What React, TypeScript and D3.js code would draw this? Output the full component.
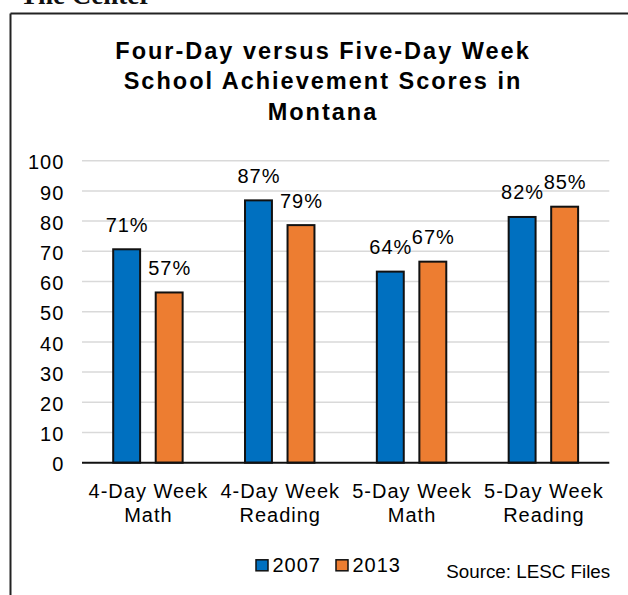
import React from "react";
import * as d3 from "d3";

const categories = [
  ["4-Day Week", "Math"],
  ["4-Day Week", "Reading"],
  ["5-Day Week", "Math"],
  ["5-Day Week", "Reading"],
];
const seriesNames = ["2007", "2013"];
const values2007 = [71, 87.2, 63.6, 81.7];
const values2013 = [56.7, 79, 66.9, 85.1];
const yTicks = [0, 10, 20, 30, 40, 50, 60, 70, 80, 90, 100];
const titleLines = [
  "Four-Day versus Five-Day Week",
  "School Achievement Scores in",
  "Montana",
];
const colors = ["#0070c0", "#ed7d31"];

const W = 628;
const H = 595;
const FONT = "'Liberation Sans', Arial, Helvetica, sans-serif";

export default function App() {
  const catKeys = categories.map((c) => c.join(" "));
  const x0 = d3.scaleBand<string>().domain(catKeys).range([82, 609.3]).padding(0);
  const x1 = d3
    .scaleBand<string>()
    .domain(seriesNames)
    .range([0, x0.bandwidth()])
    .paddingInner(0.32)
    .paddingOuter(0.71);
  const y = d3.scaleLinear().domain([0, 100]).range([462.7, 160.7]);
  const series = [values2007, values2013];

  return (
    <svg
      width={W}
      height={H}
      style={{ position: "absolute", left: 0, top: 0, background: "#fff" }}
      fontFamily={FONT}
    >
      <rect x={0} y={0} width={W} height={H} fill="#fff" />
      <text
        x={20}
        y={3.5}
        fontFamily="'Liberation Serif', 'Times New Roman', serif"
        fontWeight="bold"
        fontSize={27}
        fill="#111"
      >
        The Center
      </text>
      {/* chart border */}
      <line x1={10.5} y1={13.5} x2={W + 5} y2={13.5} stroke="#222" strokeWidth={2} />
      <line x1={10.5} y1={13.5} x2={10.5} y2={H + 5} stroke="#222" strokeWidth={2} />

      {/* title */}
      {titleLines.map((t, i) => (
        <text
          key={t}
          x={323}
          y={58.5 + i * 30.5}
          textAnchor="middle"
          fontWeight="bold"
          fontSize={23.5}
          letterSpacing={2}
          fill="#000"
        >
          {t}
        </text>
      ))}

      {/* gridlines */}
      {yTicks.map((t) =>
        t === 0 ? null : (
          <line
            key={"g" + t}
            x1={82}
            x2={609.3}
            y1={y(t)}
            y2={y(t)}
            stroke="#d9d9d9"
            strokeWidth={1.5}
          />
        )
      )}
      {/* y tick labels */}
      {yTicks.map((t) => (
        <text
          key={"t" + t}
          x={64.3}
          y={y(t) + 8.6}
          textAnchor="end"
          fontSize={20}
          letterSpacing={1}
          fill="#000"
        >
          {t}
        </text>
      ))}

      {/* bars */}
      {series.map((vals, si) =>
        vals.map((v, ci) => {
          const bx = (x0(catKeys[ci]) as number) + (x1(seriesNames[si]) as number);
          const bw = x1.bandwidth();
          return (
            <g key={"b" + si + "-" + ci}>
              <rect
                x={bx + 1}
                y={y(v) + 1}
                width={bw - 2}
                height={y(0) - y(v) - 1}
                fill={colors[si]}
                stroke="#111"
                strokeWidth={2}
              />
              <text
                x={bx + bw / 2 + 0.5}
                y={y(v) - 16.5}
                textAnchor="middle"
                fontSize={20}
                letterSpacing={1}
                fill="#000"
              >
                {Math.round(v) + "%"}
              </text>
            </g>
          );
        })
      )}

      {/* x axis line */}
      <line x1={82} x2={609.3} y1={y(0)} y2={y(0)} stroke="#111" strokeWidth={2} />

      {/* category labels */}
      {categories.map((c, ci) => {
        const cx = (x0(catKeys[ci]) as number) + x0.bandwidth() / 2 + 0.5;
        return (
          <text key={"c" + ci} textAnchor="middle" fontSize={20} letterSpacing={1} fill="#000">
            {c.map((line, li) => (
              <tspan key={li} x={cx} y={498.3 + li * 23.4}>
                {line}
              </tspan>
            ))}
          </text>
        );
      })}

      {/* legend */}
      {seriesNames.map((s, si) => {
        const lx = 256 + si * 80;
        return (
          <g key={"l" + s}>
            <rect x={lx} y={559.8} width={12} height={11} fill={colors[si]} stroke="#111" strokeWidth={1.5} />
            <text x={lx + 16.5} y={571.7} fontSize={20} letterSpacing={1} fill="#000">
              {s}
            </text>
          </g>
        );
      })}

      <text x={446.3} y={577.7} fontSize={18.8} fill="#000">
        Source: LESC Files
      </text>
    </svg>
  );
}
